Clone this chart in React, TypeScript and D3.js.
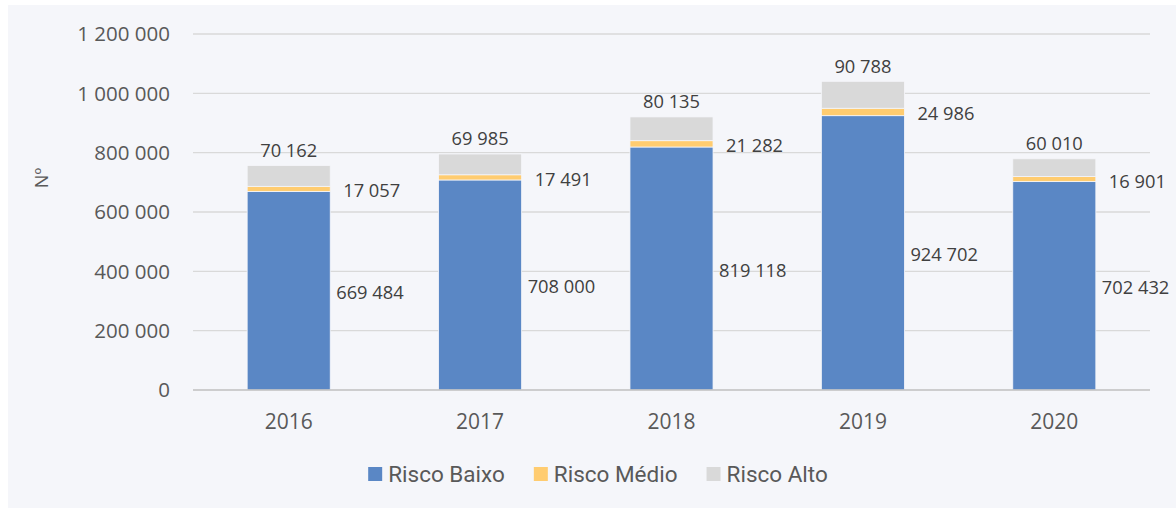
import React, { useEffect, useRef } from 'react';
import * as d3 from 'd3';

const years = ['2016', '2017', '2018', '2019', '2020'];
const riscoBaixo = [669484, 708000, 819118, 924702, 702432];
const riscoMedio = [17057, 17491, 21282, 24986, 16901];
const riscoAlto = [70162, 69985, 80135, 90788, 60010];
const seriesNames = ['Risco Baixo', 'Risco Médio', 'Risco Alto'];
const seriesColors = ['#5A87C5', '#FFCC70', '#D9D9D9'];
const yTicks = [0, 200000, 400000, 600000, 800000, 1000000, 1200000];

const W = 1176;
const H = 508;
const FONT = "'Open Sans', sans-serif";
const TEXT = '#595959';

const fmt = (v: number) => d3.format(',')(v).replace(/,/g, ' ');

export default function App() {
  const ref = useRef<SVGSVGElement>(null);

  useEffect(() => {
    const svg = d3.select(ref.current);
    svg.selectAll('*').remove();

    svg.append('rect').attr('x', 8).attr('y', 5).attr('width', W - 8).attr('height', H - 5).attr('fill', '#F5F6FA');

    const x = d3.scaleBand().domain(years).range([193, 1150]).paddingInner(0.566).paddingOuter(0.283);
    const y = d3.scaleLinear().domain([0, 1200000]).range([390, 34]);

    // gridlines
    svg.append('g').selectAll('line').data(yTicks.slice(1)).join('line')
      .attr('x1', 193).attr('x2', 1150)
      .attr('y1', d => y(d)).attr('y2', d => y(d))
      .attr('stroke', '#D9D9D9').attr('stroke-width', 1.3);

    // y tick labels
    svg.append('g').selectAll('text').data(yTicks).join('text')
      .attr('x', 170).attr('y', d => y(d)).attr('dy', '0.35em')
      .attr('text-anchor', 'end').attr('font-family', FONT).attr('font-size', 20.5)
      .attr('fill', TEXT).text(d => fmt(d));

    // y title
    svg.append('text').attr('transform', 'translate(42,178) rotate(-90)')
      .attr('text-anchor', 'middle').attr('dy', '0.35em')
      .attr('font-family', FONT).attr('font-size', 18).attr('fill', TEXT).text('Nº');

    const rows = years.map((yr, i) => ({ year: yr, b: riscoBaixo[i], m: riscoMedio[i], a: riscoAlto[i] }));
    const stack = d3.stack<any>().keys(['b', 'm', 'a'])(rows);

    stack.forEach((layer, li) => {
      svg.append('g').selectAll('rect').data(layer).join('rect')
        .attr('x', d => x(d.data.year)!)
        .attr('width', x.bandwidth())
        .attr('y', d => y(d[1]))
        .attr('height', d => y(d[0]) - y(d[1]))
        .attr('fill', seriesColors[li])
        .attr('stroke', '#F5F6FA').attr('stroke-width', 0.8);
    });

    // axis line
    svg.append('line').attr('x1', 193).attr('x2', 1150).attr('y1', y(0)).attr('y2', y(0))
      .attr('stroke', '#BFBFBF').attr('stroke-width', 1.5);

    // x labels
    svg.append('g').selectAll('text').data(years).join('text')
      .attr('x', d => x(d)! + x.bandwidth() / 2).attr('y', 422).attr('dy', '0.35em')
      .attr('text-anchor', 'middle').attr('font-family', FONT).attr('font-size', 21)
      .attr('fill', TEXT).text(d => d);

    // data labels
    const lbl = svg.append('g').attr('font-family', FONT).attr('font-size', 18.3).attr('fill', '#404040');
    lbl.selectAll('.lb').data(stack[0]).join('text').attr('class', 'lb')
      .attr('x', d => x(d.data.year)! + x.bandwidth() + 6)
      .attr('y', d => (y(d[0]) + y(d[1])) / 2 + 2).attr('dy', '0.35em')
      .text(d => fmt(d[1] - d[0]));
    lbl.selectAll('.lm').data(stack[1]).join('text').attr('class', 'lm')
      .attr('x', d => x(d.data.year)! + x.bandwidth() + 13)
      .attr('y', d => (y(d[0]) + y(d[1])) / 2 + 2).attr('dy', '0.35em')
      .text(d => fmt(d[1] - d[0]));
    lbl.selectAll('.la').data(stack[2]).join('text').attr('class', 'la')
      .attr('x', d => x(d.data.year)! + x.bandwidth() / 2)
      .attr('y', d => y(d[1]) - 15).attr('dy', '0.35em').attr('text-anchor', 'middle')
      .text(d => fmt(d[1] - d[0]));

    // legend
    const leg = svg.append('g');
    const items = seriesNames.map((name, i) => {
      const g = leg.append('g');
      g.append('rect').attr('width', 14).attr('height', 14).attr('y', -7).attr('fill', seriesColors[i]);
      const t = g.append('text').attr('x', 20).attr('dy', '0.35em')
        .attr('font-family', "Roboto, sans-serif").attr('font-size', 22.5).attr('fill', TEXT).text(name);
      const w = 20 + (t.node() as SVGTextElement).getComputedTextLength();
      return { g, w };
    });
    const gap = 29;
    const total = d3.sum(items, d => d.w) + gap * (items.length - 1);
    let cx = 598 - total / 2;
    items.forEach(it => {
      it.g.attr('transform', `translate(${cx},474)`);
      cx += it.w + gap;
    });
  }, []);

  return (
    <>
      <style>{`body{margin:0}`}</style>
      <svg ref={ref} width={W} height={H} style={{ display: 'block', background: '#fff' }} />
    </>
  );
}
